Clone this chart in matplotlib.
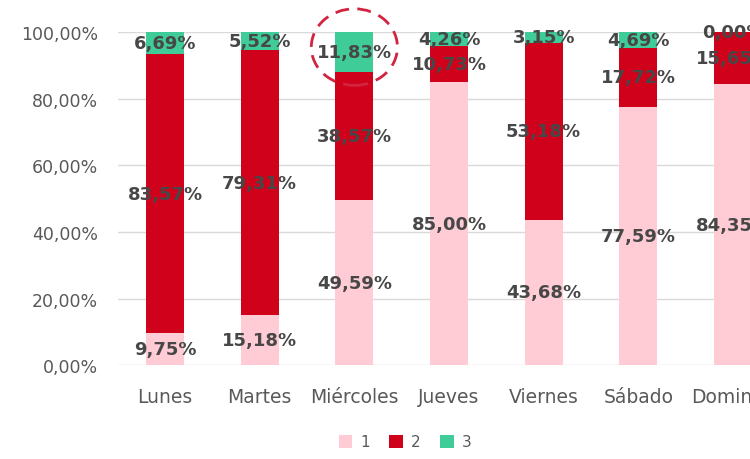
import numpy as np
import matplotlib
matplotlib.use('Agg')
import matplotlib.pyplot as plt
from matplotlib.patches import Ellipse

# Data
days = ['Lunes', 'Martes', 'Miércoles', 'Jueves', 'Viernes', 'Sábado', 'Domingo']
s1 = [9.75, 15.18, 49.59, 85.00, 43.68, 77.59, 84.35]
s2 = [83.57, 79.31, 38.57, 10.73, 53.18, 17.72, 15.65]
s3 = [6.69, 5.52, 11.83, 4.26, 3.15, 4.69, 0.00]
series_names = ['1', '2', '3']
yticks = [0, 20, 40, 60, 80, 100]

colors = ['#FFCCD5', '#D0021B', '#3FCC99']

plt.rcParams['font.family'] = ['DejaVu Sans']

fig = plt.figure(figsize=(7.5, 4.6), dpi=100)
ax = fig.add_axes([0.157, 0.204, 0.843, 0.724])

x = np.arange(len(days))
bottom = np.zeros(len(days))
for vals, col, name in zip([s1, s2, s3], colors, series_names):
    vals = np.array(vals)
    ax.bar(x, vals, width=0.4, bottom=bottom, color=col, label=name, zorder=2)
    for xi, b, v in zip(x, bottom, vals):
        ax.text(xi, b + v / 2, f'{v:.2f}%'.replace('.', ','), ha='center', va='center',
                fontsize=13, fontweight='bold', color='#474747', zorder=4, clip_on=False)
    bottom = bottom + vals

ax.set_xlim(-0.5, 6.18)
ax.set_ylim(0, 100)
ax.set_yticks(yticks)
ax.set_yticklabels([f'{t},00%' for t in yticks], fontsize=12.5, color='#595959')
ax.set_xticks(x)
ax.set_xticklabels(days, fontsize=13.5, color='#595959')
ax.tick_params(axis='y', length=0, pad=14)
ax.tick_params(axis='x', length=0, pad=16)
ax.grid(axis='y', color='#D9D9D9', linewidth=1, zorder=0)
for s in ax.spines.values():
    s.set_visible(False)

# dashed highlight circle
ell = Ellipse((2, 95.5), 0.91, 23, fill=False, edgecolor='#D2233F', linestyle=(0, (5, 3)),
              linewidth=2, clip_on=False, zorder=5)
ax.add_patch(ell)

fig.legend(loc='center', bbox_to_anchor=(0.54, 0.037), ncol=3, frameon=False,
           handlelength=0.9, handleheight=0.9, handletextpad=0.5, columnspacing=1.3,
           fontsize=11, labelcolor='#595959')

fig.savefig('out.png', dpi=100)
